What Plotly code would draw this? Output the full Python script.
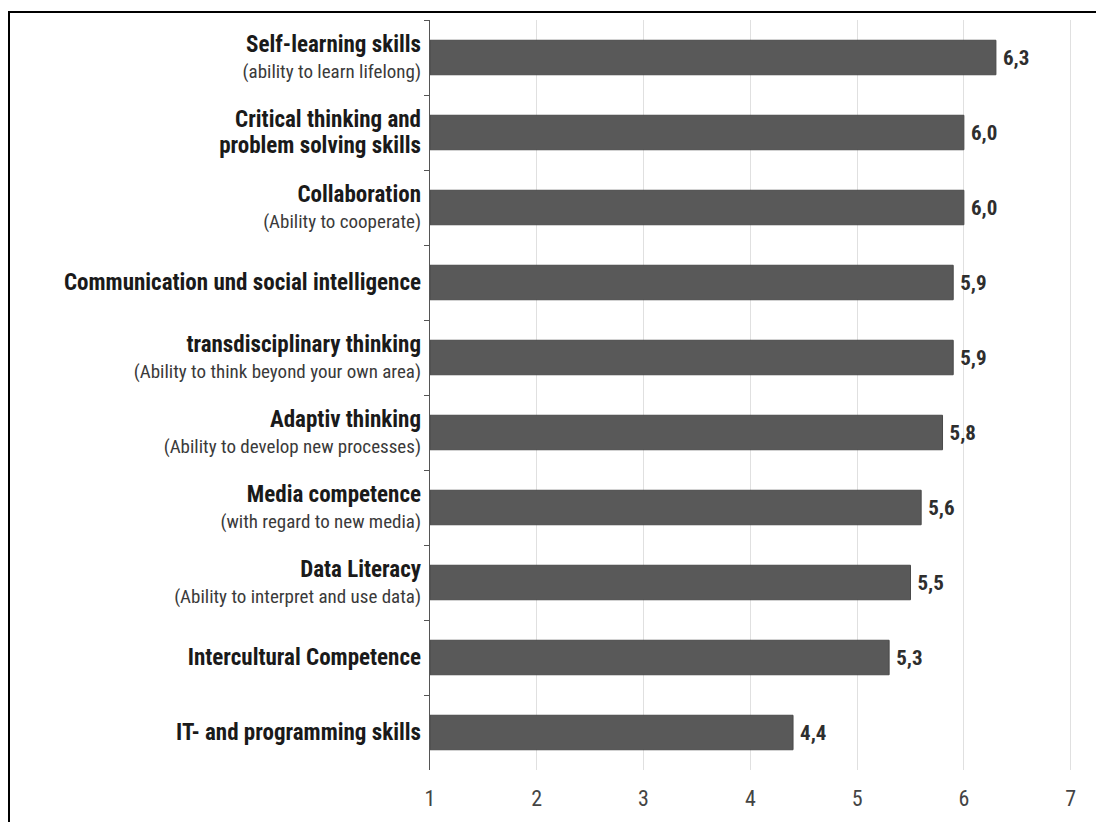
import plotly.graph_objects as go

titles = [
    "Self-learning skills",
    "Critical thinking and<br>problem solving skills",
    "Collaboration",
    "Communication und social intelligence",
    "transdisciplinary thinking",
    "Adaptiv thinking",
    "Media competence",
    "Data Literacy",
    "Intercultural Competence",
    "IT- and programming skills",
]
subtitles = [
    "(ability to learn lifelong)",
    "",
    "(Ability to cooperate)",
    "",
    "(Ability to think beyond your own area)",
    "(Ability to develop new processes)",
    "(with regard to new media)",
    "(Ability to interpret and use data)",
    "",
    "",
]
values = [6.3, 6.0, 6.0, 5.9, 5.9, 5.8, 5.6, 5.5, 5.3, 4.4]
x_ticks = [1, 2, 3, 4, 5, 6, 7]

FONT = "Liberation Sans Narrow, Arial Narrow, Roboto Condensed, Liberation Sans, sans-serif"

labels = []
for t, s in zip(titles, subtitles):
    parts = t.split("<br>")
    lab = "<br>".join("<span style='font-size:23px'><b>" + p + "</b></span>" for p in parts)
    if s:
        lab += "<br><span style='font-size:19px;color:#3a3a3a'>" + s + "</span>"
    labels.append(lab)

texts = ["\u2009" + f"{v:.1f}".replace(".", ",") for v in values]

fig = go.Figure()
fig.add_trace(go.Bar(
    y=labels,
    x=[v - 1 for v in values],
    base=1,
    orientation="h",
    marker=dict(color="#595959", line=dict(color="#4a4a4a", width=1)),
    width=0.46,
    text=texts,
    textposition="outside",
    textfont=dict(family=FONT, size=21, color="#2e2e2e", weight="bold"),
    cliponaxis=False,
))

L, R, T, B = 430, 20, 20, 52
W, H = 1096, 822
pw, ph = W - L - R, H - T - B

def px_x(p):
    return (p - L) / pw

def px_y(p):
    return (H - B - p) / ph

fig.add_shape(type="rect", xref="paper", yref="paper",
              x0=px_x(9), x1=px_x(1105), y0=px_y(840), y1=px_y(12),
              line=dict(color="black", width=2), fillcolor="rgba(0,0,0,0)")

fig.update_layout(
    width=W, height=H,
    margin=dict(l=L, r=R, t=T, b=B),
    paper_bgcolor="white", plot_bgcolor="white",
    showlegend=False,
    font=dict(family=FONT, color="#1a1a1a"),
    bargap=0.54,
)
fig.update_xaxes(
    range=[1, 7.05],
    tickvals=x_ticks,
    ticktext=[str(v) for v in x_ticks],
    showgrid=True, gridcolor="#e0e0e0", gridwidth=1,
    zeroline=False, showline=False, ticks="",
    tickfont=dict(family=FONT, size=22, color="#444444"),
    ticklabelstandoff=13,
)
fig.update_yaxes(
    autorange="reversed",
    tickson="boundaries",
    ticks="outside", ticklen=5, tickcolor="#555555",
    showline=True, linecolor="#555555", linewidth=1,
    showgrid=False,
    tickfont=dict(family=FONT, size=20, color="#1a1a1a"),
    ticklabelstandoff=4,
)

fig.write_html("out.html")
